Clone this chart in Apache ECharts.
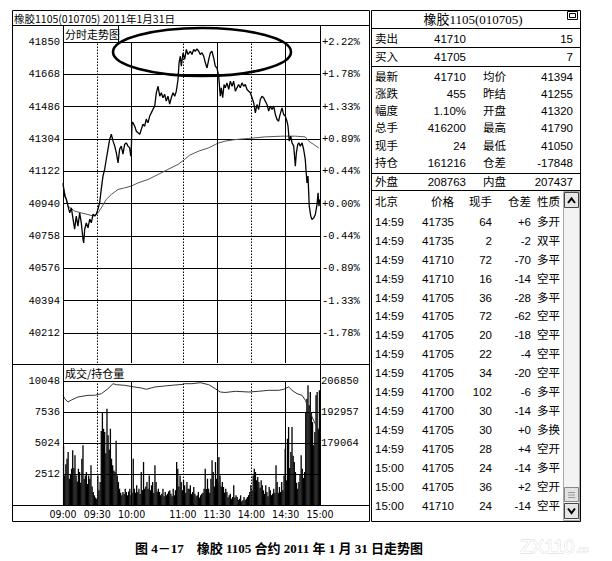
<!DOCTYPE html>
<html><head><meta charset="utf-8">
<script src="https://cdn.jsdelivr.net/npm/echarts@6/dist/echarts.min.js"></script>
<style>html,body{margin:0;padding:0;background:#fff}#c{width:612px;height:561px}</style>
</head><body><div id="c"></div>
<script>
// ---------- data ----------
const priceTicks = [40212,40394,40576,40758,40940,41122,41304,41486,41668,41850];
const pctLabels = ['-1.78%','-1.33%','-0.89%','-0.44%','+0.00%','+0.44%','+0.89%','+1.33%','+1.78%','+2.22%'];
const volTicks = [0,2512,5024,7536,10048];
const oiTicks = [151278,165171,179064,192957,206850];
const timeMinutes = [0,30,60,105,135,165,195,225];
const timeLabels = ['09:00','09:30','10:00','11:00','11:30','14:00','14:30','15:00'];
const solidMinutes = [60,135,195];
const dashedMinutes = [30,105,165];
const totalMinutes = 225;

const pricePoints = [[0,41055],[1.5,40982],[2.9,40965],[4.4,40926],[5.9,40888],[7.3,40916],[8.8,40853],[10.2,40796],[11.6,40870],[13.1,40813],[14.6,40888],[16,40832],[17.5,40740],[18.1,40719],[19,40796],[20.4,40832],[21.9,40804],[23.4,40853],[24.8,40832],[26.3,40881],[27.8,40870],[29.2,40881],[30.6,40909],[32.1,40945],[33.5,41022],[35,41095],[36.5,41134],[37.9,41190],[39.4,41247],[40.9,41303],[42.3,41331],[43.8,41292],[45.3,41264],[46.7,41226],[48.2,41170],[49.6,41247],[51,41264],[52.5,41219],[54,41275],[55.4,41282],[56.9,41264],[58.4,41254],[59.3,41207],[59.8,41240],[60.4,41399],[61.3,41395],[62.8,41376],[64.2,41348],[65.7,41339],[67.2,41331],[68.6,41359],[70,41387],[71.5,41376],[72.9,41416],[74.4,41395],[75.9,41433],[77.3,41451],[78.8,41472],[80.3,41489],[81.7,41564],[83.2,41601],[84.7,41545],[86.1,41564],[87.5,41536],[89,41555],[90.4,41517],[91.9,41545],[93.4,41500],[94.8,41536],[96.3,41564],[97.8,41545],[99.2,41573],[100.7,41639],[101.6,41733],[102.7,41770],[103.6,41714],[105.1,41789],[106.5,41752],[108,41808],[109.4,41780],[111.5,41798],[112.9,41780],[114.4,41808],[115.8,41798],[117.3,41811],[118.8,41798],[120.2,41780],[121.7,41789],[123.2,41770],[124.6,41733],[126.1,41704],[127.6,41752],[129,41789],[130.4,41798],[131.9,41761],[133.3,41714],[134.8,41704],[136.3,41658],[137.7,41545],[138.6,41592],[139.8,41536],[141,41611],[142.1,41592],[143.6,41620],[145.1,41583],[146.5,41630],[148,41601],[149.4,41630],[150.9,41573],[152.3,41592],[153.8,41611],[155.2,41592],[156.7,41620],[158.2,41601],[159.6,41611],[161.1,41583],[162.6,41573],[164,41564],[165.5,41536],[167,41507],[168.4,41451],[169.8,41498],[171.3,41470],[172.7,41526],[174.2,41545],[175.7,41536],[177.1,41517],[178.6,41498],[180.1,41461],[181.5,41489],[183,41470],[184.5,41489],[185.9,41442],[187.4,41414],[188.8,41404],[189.7,41433],[190.9,41461],[191.7,41479],[193.2,41442],[194.6,41433],[196.1,41404],[197,41376],[198.1,41292],[199.4,41320],[200.5,41282],[202,41264],[203.4,41151],[204.3,41226],[205.5,41273],[206.4,41282],[207.8,41264],[209.3,41282],[210.7,41245],[212.1,41189],[213.6,41057],[214.5,41095],[215.6,40926],[216.9,40870],[218,40851],[219.5,40860],[220.9,40879],[222.4,40936],[223.3,41001],[224.1,40926],[224.7,40964]];

const avgPoints = [[0,41040],[4.4,40926],[10.2,40898],[16,40888],[21.9,40879],[26.3,40870],[30.6,40888],[33.5,40916],[37.9,40964],[42.3,40992],[48.2,41020],[54,41029],[59.8,41039],[65.7,41057],[74.4,41076],[83.2,41104],[91.9,41133],[100.7,41161],[106.5,41189],[110.9,41213],[118.8,41236],[127.6,41254],[133.3,41273],[136.3,41282],[142.1,41292],[150.9,41301],[162.6,41307],[177.1,41316],[191.7,41320],[203.4,41320],[212.1,41316],[215.1,41292],[219.5,41273],[223.9,41254]];

const volume = [4800,2400,3300,3750,4290,2130,2500,2940,4430,3000,4025,2400,1900,2940,2670,1800,3750,4835,2100,2400,2670,1700,2400,2130,3215,1500,1050,785,600,510,2400,1200,1860,6000,7530,6180,5910,4200,7800,5645,4500,6180,3750,3215,2800,2670,5200,2400,1860,1320,1000,785,1050,900,1320,1050,785,1100,1320,785,1000,3750,1320,1000,1595,1050,1320,900,2670,1200,3480,1320,1500,1860,1320,2400,1200,1595,1860,1000,3215,1860,1100,1320,1050,800,915,1320,700,1050,785,915,1100,1190,915,700,1320,785,1200,3480,2940,1500,2400,1860,1200,2000,1595,1000,1860,1320,1320,1595,900,1050,1460,915,700,785,1050,600,785,915,1000,1320,2940,1300,2130,1320,1000,2130,3620,2670,1500,3480,2130,1800,3890,2400,1500,1860,1460,1000,1320,1050,600,785,915,500,650,1595,600,785,650,400,510,785,300,380,650,400,510,650,800,1050,1595,1200,2400,2940,2670,2000,2270,1860,1400,2000,1595,1190,900,1595,1050,700,1460,1190,800,915,1320,1000,3215,1860,1000,1460,1050,1860,1200,2400,4560,2000,5370,6320,3000,4290,6320,4000,3480,2670,1800,1320,1860,2500,4025,2940,2200,2670,7530,8610,9695,8075,9150,7500,6720,4835,5910,8885,9150,6180,9300];

const oiPoints = [[0,200441],[1.5,198917],[4.4,197438],[7.3,198334],[13.1,199679],[21.9,200441],[27.7,200441],[33.6,201158],[39.4,203399],[43.8,205640],[46.7,205192],[54,204923],[62.8,204161],[68.6,203713],[72.9,203130],[80.3,204161],[89,204609],[97.8,205057],[104.2,205300],[106.6,205640],[112.9,205640],[120.2,206088],[127.6,205192],[133.3,203399],[137.7,201920],[142.1,201700],[150.9,202234],[162.6,201920],[171.3,202234],[180.1,202682],[188.9,202682],[193.2,203130],[197.6,204161],[200.5,202682],[204.9,201158],[209.3,200441],[212.2,198200],[215.1,194435],[218,190715],[220.9,187712],[223.9,184754]];

const chartTitle = '橡胶1105(010705) 2011年1月31日';
const mainLabel = '分时走势图';
const volLabel = '成交/持仓量';
const caption = '图 4－17　橡胶 1105 合约 2011 年 1 月 31 日走势图';
const sideTitle = '橡胶1105(010705)';
const bookRows = [['卖出','41710','','15'],['买入','41705','','7']];
const statRows = [['最新','41710','均价','41394'],['涨跌','455','昨结','41255'],['幅度','1.10%','开盘','41320'],['总手','416200','最高','41790'],['现手','24','最低','41050'],['持仓','161216','仓差','-17848']];
const flowRow = ['外盘','208763','内盘','207437'];
const tickHeader = ['北京','价格','现手','仓差','性质'];
const tickRows = [
['14:59','41735','64','+6','多开'],['14:59','41735','2','-2','双平'],['14:59','41710','72','-70','多平'],['14:59','41710','16','-14','空平'],
['14:59','41705','36','-28','多平'],['14:59','41705','72','-62','空平'],['14:59','41705','20','-18','空平'],['14:59','41705','22','-4','空平'],
['14:59','41705','34','-20','空平'],['14:59','41700','102','-6','多平'],['14:59','41700','30','-14','多平'],['14:59','41705','30','+0','多换'],
['14:59','41705','28','+4','空开'],['15:00','41705','24','-14','多平'],['15:00','41705','36','+2','空开'],['15:00','41710','24','-14','空平']];

// ---------- layout ----------
const PL = 63, PR = 320, MAIN_TOP = 42, MAIN_TICK_BOTTOM = 333, MAIN_BOTTOM = 363, VOL_TOP = 381, VOL_BOTTOM = 505;
const BOX_L = 12, BOX_R = 369, BOX_T = 10, BOX_B = 521, TITLE_B = 25;
const T_L = 371, T_R = 580;
const MONO = '"Liberation Mono","DejaVu Sans Mono",monospace';
const SANS = '"Liberation Sans","Noto Sans CJK SC",sans-serif';
const NARROW = '"Liberation Sans Narrow","DejaVu Sans Condensed","Liberation Sans",sans-serif';
const CJK = '"Noto Sans CJK SC",sans-serif';

const pTop = priceTicks[priceTicks.length-1], pBot = priceTicks[0];
const priceDataMin = pTop - (MAIN_BOTTOM - MAIN_TOP) / (MAIN_TICK_BOTTOM - MAIN_TOP) * (pTop - pBot);
const pStep = priceTicks[1] - priceTicks[0];

const vMarks = solidMinutes.map(m => ({xAxis: m, lineStyle: {type: 'solid', color: '#000', width: 1}}))
  .concat(dashedMinutes.map(m => ({xAxis: m, lineStyle: {type: [1.5, 1.5], color: '#000', width: 1}})));
const markLineCfg = {silent: true, symbol: ['none','none'], label: {show: false}, emphasis: {disabled: true}, animation: false, data: vMarks};

const g = [];
const H = (x1, x2, y, w) => g.push({type:'line', silent:true, shape:{x1:x1, y1:y+0.5, x2:x2, y2:y+0.5}, style:{stroke:'#000', lineWidth:w||1}, z:50});
const V = (x, y1, y2, w) => g.push({type:'line', silent:true, shape:{x1:x+0.5, y1:y1, x2:x+0.5, y2:y2}, style:{stroke:'#000', lineWidth:w||1}, z:50});
const T = (text, x, y, align, size, family, extra) => g.push({type:'text', silent:true, z:60, style:Object.assign({
  text: text, x: x, y: y, textAlign: align, align: align, textVerticalAlign: 'middle', verticalAlign: 'middle',
  fontSize: size, fontFamily: family, fill: '#000'}, extra || {})});

// left box frame
g.push({type:'rect', silent:true, z:49, shape:{x:BOX_L+0.5, y:BOX_T+0.5, width:BOX_R-BOX_L, height:BOX_B-BOX_T}, style:{fill:'none', stroke:'#000', lineWidth:1}});
H(BOX_L, BOX_R, TITLE_B);
V(PL, TITLE_B, VOL_BOTTOM);
V(PR, TITLE_B, VOL_BOTTOM);
H(BOX_L, BOX_R, 364, 1.2);
H(BOX_L, BOX_R, VOL_BOTTOM);
V(118, TITLE_B, MAIN_TOP);
T(chartTitle, 14, 18, 'left', 10.5, CJK);
T(mainLabel, 65, 33.5, 'left', 11, CJK);
T(volLabel, 65, 373, 'left', 11, CJK);

// annotation ellipse
g.push({type:'ellipse', silent:true, z:70, shape:{cx:202, cy:52, rx:89, ry:24}, style:{fill:'none', stroke:'#000', lineWidth:2.6}});

// side table
g.push({type:'rect', silent:true, z:49, shape:{x:T_L+0.5, y:BOX_T+0.5, width:T_R-T_L, height:BOX_B-BOX_T}, style:{fill:'none', stroke:'#000', lineWidth:1}});
[28, 47, 66, 173, 190].forEach(y => H(T_L, T_R, y));
T(sideTitle, 473, 19.5, 'center', 13, '"Liberation Serif","Noto Sans CJK SC",serif');
g.push({type:'rect', silent:true, z:55, shape:{x:567.5, y:11.5, width:10, height:8}, style:{fill:'#fff', stroke:'#000', lineWidth:1}});
g.push({type:'rect', silent:true, z:56, shape:{x:569.5, y:13.5, width:6, height:4}, style:{fill:'none', stroke:'#000', lineWidth:1}});
const cA = 375, cB = 466, cC = 483, cD = 573;
const fourCols = (row, y) => { T(row[0], cA, y, 'left', 11.5, SANS); T(row[1], cB, y, 'right', 11.5, SANS); if (row[2]) T(row[2], cC, y, 'left', 11.5, SANS); T(row[3], cD, y, 'right', 11.5, SANS); };
bookRows.forEach((r, i) => fourCols(r, 38.5 + i * 18.5));
statRows.forEach((r, i) => fourCols(r, 76.5 + i * 17.3));
fourCols(flowRow, 182);
const tc = [[375,'left'],[454,'right'],[492,'right'],[531,'right'],[537,'left']];
tickHeader.forEach((s, j) => T(s, tc[j][0], 202, tc[j][1], 11.5, SANS));
tickRows.forEach((r, i) => r.forEach((s, j) => T(s, tc[j][0], 221.7 + i * 18.95, tc[j][1], 11.5, SANS)));
// scrollbar
g.push({type:'rect', silent:true, z:51, shape:{x:563.5, y:191.5, width:16, height:329}, style:{fill:'#f3f3f3', stroke:'#aaa', lineWidth:1}});
g.push({type:'rect', silent:true, z:52, shape:{x:564.5, y:192.5, width:14, height:15}, style:{fill:'#e6e6e6', stroke:'#444', lineWidth:1}});
g.push({type:'polyline', silent:true, z:53, shape:{points:[[568,203],[571.5,198.5],[575,203]]}, style:{fill:'none', stroke:'#000', lineWidth:2}});
g.push({type:'rect', silent:true, z:52, shape:{x:564.5, y:487.5, width:14, height:14}, style:{fill:'#e2e2e2', stroke:'#888', lineWidth:1}});
[492, 494.5, 497].forEach(y => g.push({type:'line', silent:true, z:53, shape:{x1:568, y1:y+0.5, x2:575, y2:y+0.5}, style:{stroke:'#999', lineWidth:1}}));
g.push({type:'rect', silent:true, z:52, shape:{x:564.5, y:503.5, width:14, height:15}, style:{fill:'#e6e6e6', stroke:'#444', lineWidth:1}});
g.push({type:'polyline', silent:true, z:53, shape:{points:[[568,508.5],[571.5,513],[575,508.5]]}, style:{fill:'none', stroke:'#000', lineWidth:2}});

// caption + watermark
T(caption, 279, 548, 'center', 13, '"Liberation Serif","Noto Sans CJK SC",serif', {fontWeight:'bold'});
T('ZX110', 520, 546, 'left', 19, SANS, {fill:'#fff', stroke:'#d6d6d6', lineWidth:0.8});
T('.cc', 576, 549, 'left', 10, SANS, {fill:'#fff', stroke:'#d6d6d6', lineWidth:0.6});

const axisText = {fontFamily: MONO, fontSize: 10.5, color: '#000'};

const option = {
  animation: false,
  backgroundColor: '#fff',
  grid: [
    {left: PL, width: PR - PL, top: MAIN_TOP, height: MAIN_TICK_BOTTOM - MAIN_TOP, outerBoundsMode: 'none', containLabel: false},
    {left: PL, width: PR - PL, top: MAIN_TOP, height: MAIN_BOTTOM - MAIN_TOP, outerBoundsMode: 'none', containLabel: false},
    {left: PL, width: PR - PL, top: VOL_TOP, height: VOL_BOTTOM - VOL_TOP, outerBoundsMode: 'none', containLabel: false}
  ],
  xAxis: [
    {gridIndex: 0, type: 'value', min: 0, max: totalMinutes, show: false},
    {gridIndex: 1, type: 'value', min: 0, max: totalMinutes, show: false},
    {gridIndex: 2, type: 'value', min: 0, max: totalMinutes,
      axisLine: {show: false}, axisTick: {show: false}, splitLine: {show: false},
      axisLabel: {customValues: timeMinutes, margin: 3, fontFamily: NARROW, fontSize: 10.5, color: '#000',
        formatter: v => { const k = timeMinutes.indexOf(Math.round(v)); return k >= 0 ? timeLabels[k] : ''; }}}
  ],
  yAxis: [
    {gridIndex: 0, type: 'value', position: 'left', min: pBot, max: pTop, interval: pStep,
      axisLine: {show: false}, axisTick: {show: false},
      axisLabel: Object.assign({margin: 3, formatter: (v, i) => String(priceTicks[i])}, axisText),
      splitLine: {show: true, lineStyle: {color: '#000', width: 1}}},
    {gridIndex: 0, type: 'value', position: 'right', min: pBot, max: pTop, interval: pStep,
      axisLine: {show: false}, axisTick: {show: false}, splitLine: {show: false},
      axisLabel: Object.assign({margin: 2, formatter: (v, i) => pctLabels[i]}, axisText)},
    {gridIndex: 1, type: 'value', min: priceDataMin, max: pTop, show: false, splitLine: {show: false}},
    {gridIndex: 2, type: 'value', position: 'left', min: volTicks[0], max: volTicks[volTicks.length-1], interval: volTicks[1] - volTicks[0],
      axisLine: {show: false}, axisTick: {show: false},
      axisLabel: Object.assign({margin: 3, formatter: (v, i) => i > 0 ? String(volTicks[i]) : ''}, axisText),
      splitLine: {show: true, lineStyle: {color: '#000', width: 1}}},
    {gridIndex: 2, type: 'value', position: 'right', min: oiTicks[0], max: oiTicks[oiTicks.length-1], interval: oiTicks[1] - oiTicks[0],
      axisLine: {show: false}, axisTick: {show: false}, splitLine: {show: false},
      axisLabel: Object.assign({margin: 1, formatter: (v, i) => i >= 2 ? String(oiTicks[i]) : ''}, axisText)}
  ],
  series: [
    {type: 'line', xAxisIndex: 1, yAxisIndex: 2, data: avgPoints, symbol: 'none', silent: true,
      lineStyle: {color: '#555', width: 1}, z: 3},
    {type: 'line', xAxisIndex: 1, yAxisIndex: 2, data: pricePoints, symbol: 'none', silent: true,
      lineStyle: {color: '#000', width: 1.3}, z: 4, markLine: markLineCfg},
    {type: 'bar', xAxisIndex: 2, yAxisIndex: 3, data: volume.map((v, i) => [i + 0.5, v]), barWidth: 1.3, silent: true,
      itemStyle: {color: '#000'}, z: 3, markLine: markLineCfg},
    {type: 'line', xAxisIndex: 2, yAxisIndex: 4, data: oiPoints, symbol: 'none', silent: true,
      lineStyle: {color: '#333', width: 1}, z: 4}
  ],
  graphic: {elements: g}
};

const chart = echarts.init(document.getElementById('c'), null, {renderer: 'svg', width: 612, height: 561});
chart.setOption(option);
</script>
</body></html>
